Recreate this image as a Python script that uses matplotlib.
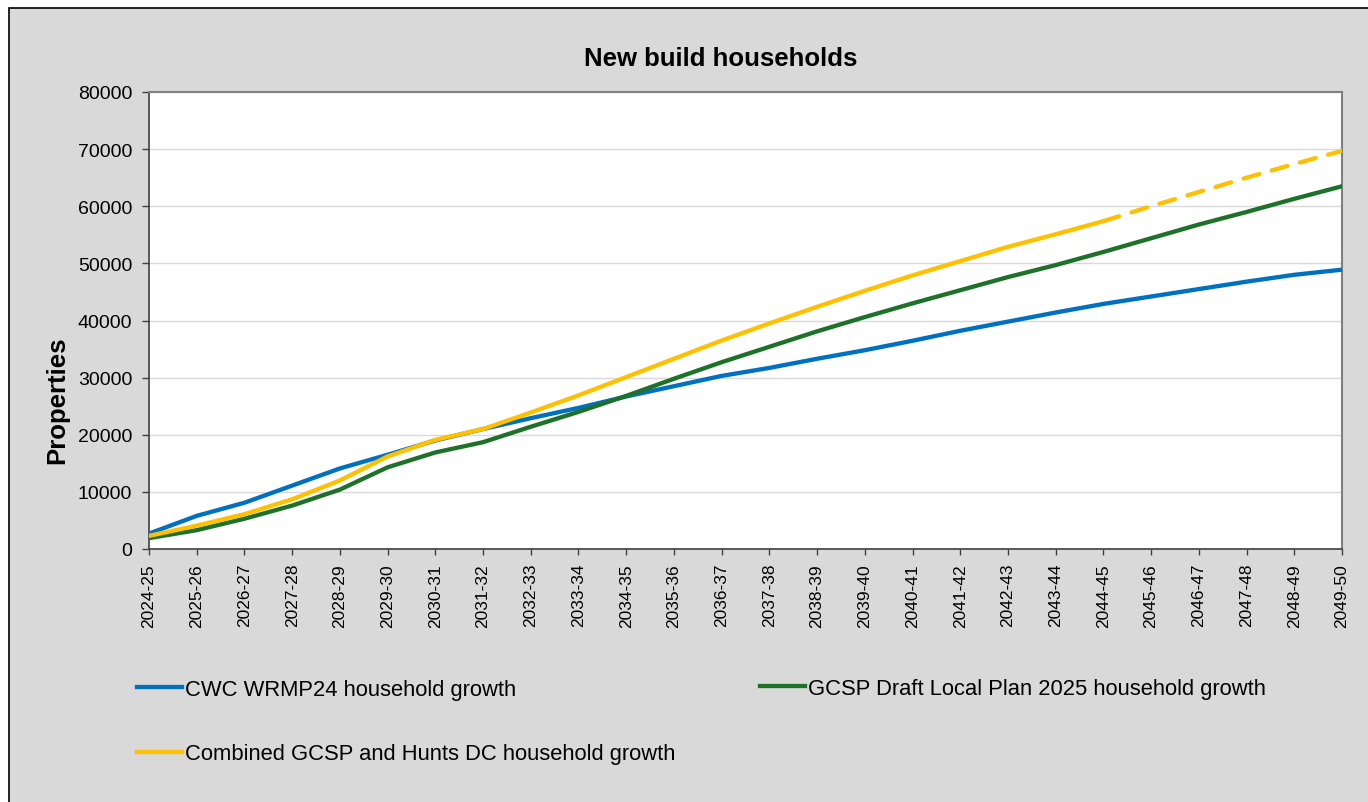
import matplotlib
matplotlib.use("Agg")
import matplotlib.pyplot as plt
from matplotlib.patches import Rectangle
from matplotlib.lines import Line2D

plt.rcParams['font.family'] = ['Liberation Sans', 'DejaVu Sans']

years = ["2024-25", "2025-26", "2026-27", "2027-28", "2028-29", "2029-30", "2030-31",
         "2031-32", "2032-33", "2033-34", "2034-35", "2035-36", "2036-37", "2037-38",
         "2038-39", "2039-40", "2040-41", "2041-42", "2042-43", "2043-44", "2044-45",
         "2045-46", "2046-47", "2047-48", "2048-49", "2049-50"]

cwc = [2700, 5800, 8100, 11100, 14100, 16500, 19000, 21000, 22900, 24700, 26700,
       28500, 30300, 31700, 33300, 34800, 36450, 38200, 39800, 41400, 42900,
       44200, 45500, 46800, 48000, 48900]

gcsp = [1900, 3300, 5300, 7600, 10400, 14300, 16900, 18700, 21400, 24000, 26800,
        29800, 32700, 35400, 38100, 40600, 43000, 45300, 47600, 49700, 52000,
        54400, 56800, 59000, 61300, 63500]

combined = [2300, 4100, 6100, 8700, 12000, 16200, 19100, 21000, 23900, 26900, 30100,
            33300, 36500, 39500, 42400, 45200, 47900, 50400, 52900, 55100, 57400,
            60000, 62500, 65000, 67400, 69700]

split_idx = 20  # 2044-45: solid up to here, dashed after

C_BLUE = "#0070C0"
C_GREEN = "#1E7128"
C_YELLOW = "#FFC000"
BG = "#D9D9D9"

W, H = 1368, 803
fig = plt.figure(figsize=(W / 100, H / 100), dpi=100)
fig.patch.set_facecolor("white")

# gray chart area with black border at top-left
fig.patches.append(Rectangle((9 / W, -0.1), 1.2, 1 - 9 / H + 0.1, transform=fig.transFigure,
                             facecolor=BG, edgecolor="black", linewidth=1.2, zorder=-5))

ax = fig.add_axes([149 / W, 1 - 550 / H, (1342 - 149) / W, (550 - 93) / H])
ax.set_zorder(2)
ax.set_facecolor("white")

x = list(range(len(years)))
ax.plot(x, cwc, color=C_BLUE, lw=3.1, solid_capstyle="round", zorder=3)
ax.plot(x, gcsp, color=C_GREEN, lw=3.1, solid_capstyle="round", zorder=3)
ax.plot(x[:split_idx + 1], combined[:split_idx + 1], color=C_YELLOW, lw=3.1,
        solid_capstyle="round", zorder=4)
ax.plot(x[split_idx:], combined[split_idx:], color=C_YELLOW, lw=3.1,
        linestyle=(0, (3.8, 3.0)), dash_capstyle="round", zorder=4)

ax.set_xlim(0, len(years) - 1)
ax.set_ylim(0, 80000)
ax.set_yticks(range(0, 80001, 10000))
ax.set_xticks(x)
ax.set_xticklabels(years, rotation=90, fontsize=12.5)
ax.tick_params(axis="y", labelsize=14, length=5, width=1, pad=7, color="#404040")
ax.tick_params(axis="x", length=4, width=1, pad=6, color="#404040")
ax.grid(axis="y", color="#D9D9D9", lw=1)
ax.set_axisbelow(True)

for s in ["top", "right"]:
    ax.spines[s].set_color("#808080")
    ax.spines[s].set_linewidth(1.5)
for s in ["left", "bottom"]:
    ax.spines[s].set_color("#404040")
    ax.spines[s].set_linewidth(1.2)

fig.text(721 / W, 1 - 59 / H, "New build households", ha="center", va="center",
         fontsize=18.5, fontweight="bold")
fig.text(57 / W, 1 - 400 / H, "Properties", ha="center", va="center", rotation=90,
         fontsize=18.5, fontweight="bold")

h_cwc = Line2D([], [], color=C_BLUE, lw=3.1)
h_gcsp = Line2D([], [], color=C_GREEN, lw=3.1)
h_comb = Line2D([], [], color=C_YELLOW, lw=3.1)

leg_kw = dict(frameon=False, fontsize=15.8, handlelength=2.05, handletextpad=0.12,
              borderpad=0, borderaxespad=0, loc="upper left")
leg1 = fig.legend([h_cwc, h_comb], ["CWC WRMP24 household growth",
                                     "Combined GCSP and Hunts DC household growth"],
                  bbox_to_anchor=(137 / W, 1 - 680 / H), labelspacing=1.98, **leg_kw)
leg2 = fig.legend([h_gcsp], ["GCSP Draft Local Plan 2025 household growth"],
                  bbox_to_anchor=(760 / W, 1 - 679 / H), **leg_kw)

fig.savefig("out.png", dpi=100, facecolor=fig.get_facecolor())
